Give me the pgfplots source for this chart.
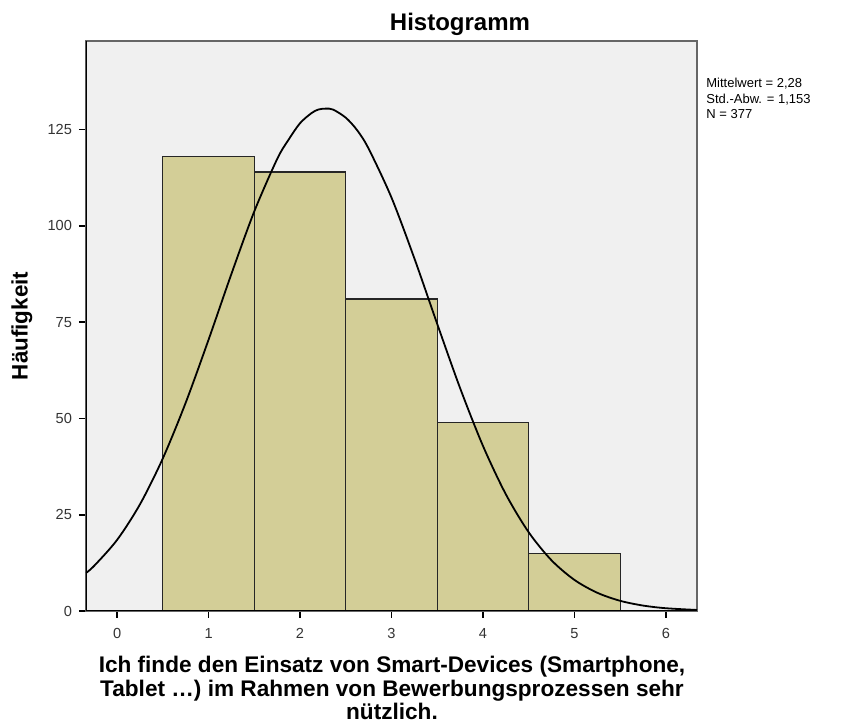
\documentclass[border=0pt]{standalone}
\usepackage{pgfplots}
\pgfplotsset{compat=1.18}
\usepackage{fontspec}
\setmainfont{Liberation Sans}
\definecolor{barfill}{RGB}{211,206,151}
\definecolor{plotbg}{RGB}{240,240,240}
\begin{document}
\begin{tikzpicture}[x=0.5pt,y=0.5pt]
\path[use as bounding box] (0,0) rectangle (843,722);
\begin{axis}[
  at={(86*0.5pt,111*0.5pt)}, anchor=south west,
  scale only axis, width=305.5pt, height=285pt,
  xmin=-0.34, xmax=6.34, ymin=0, ymax=148,
  axis background/.style={fill=plotbg},
  axis line style={draw=black!60, line width=0.8pt},
  xtick={0,1,2,3,4,5,6}, ytick={0,25,50,75,100,125},
  tick align=outside, tick pos=left,
  major tick length=3.5pt,
  tick style={black, line width=0.8pt},
  ticklabel style={font=\fontsize{7.3}{8}\selectfont, text=black!80},
  xticklabel style={yshift=-1.5pt},
  /pgf/number format/assume math mode=true,
  clip=true,
]
\addplot[ybar interval, fill=barfill, draw=black!85, line width=0.6pt]
  coordinates {(0.5,118) (1.5,114) (2.5,81) (3.5,49) (4.5,15) (5.5,15)};
\addplot[smooth, black, line width=0.9pt] coordinates {
(-0.34,9.87) (-0.25,11.74) (0,18.46) (0.25,27.69) (0.5,39.62) (0.75,54.08)
(1,70.44) (1.25,87.53) (1.5,103.76) (1.75,117.36) (1.875,122.38) (2,126.65) (2.125,129.27)
(2.2,130.20) (2.28,130.44) (2.36,130.20) (2.5,128.09) (2.625,124.81) (2.75,120.04) (3,107.33) (3.25,91.56) (3.5,74.53)
(3.75,57.87) (4,42.87) (4.25,30.31) (4.5,20.44) (4.75,13.15) (5,8.07)
(5.25,4.73) (5.5,2.64) (5.75,1.41) (6,0.716) (6.34,0.265)};
\draw[black, line width=0.8pt] (rel axis cs:0,1) -- (rel axis cs:0,0) -- (rel axis cs:1,0);
\end{axis}
\node[font=\bfseries\fontsize{12}{13}\selectfont] at (460,698) {Histogramm};
\node[align=center, inner sep=0pt, font=\bfseries\fontsize{11.3}{10.3}\selectfont] at (392,34)
  {Ich finde den Einsatz von Smart-Devices (Smartphone,\\Tablet \dots) im Rahmen von Bewerbungsprozessen sehr\\nützlich.};
\node[rotate=90, inner sep=0pt, font=\bfseries\fontsize{11.2}{12}\selectfont] at (22,396) {Häufigkeit};
\node[anchor=north west, align=left, font=\fontsize{6.5}{7.7}\selectfont, inner sep=0pt] at (706,644)
  {Mittelwert = 2,28\\Std.-Abw. = 1,153\\N = 377};
\end{tikzpicture}
\end{document}
